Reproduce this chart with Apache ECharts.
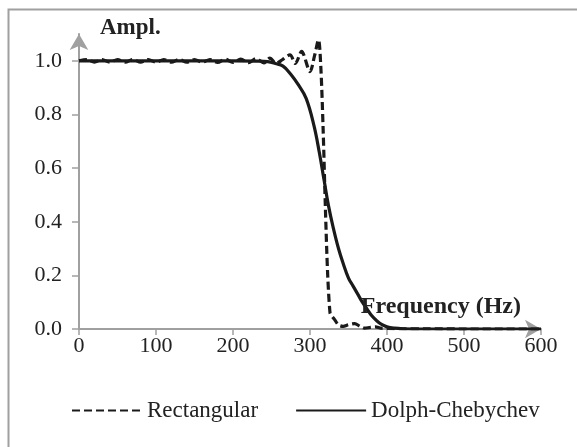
<!DOCTYPE html>
<html><head><meta charset="utf-8">
<script src="https://cdn.jsdelivr.net/npm/echarts@6/dist/echarts.min.js"></script>
<style>html,body{margin:0;padding:0;background:#fff}#c{width:577px;height:447px}</style>
</head><body><div id="c"></div>
<script>
// Frequency (Hz) and amplitude pairs
const rectFreq = [0,10,20,30,40,50,60,70,80,90,100,110,120,130,140,150,160,170,180,190,200,210,220,230,240,248,256,264,274,281,289,300,306,311,314,317,320,323,326,328,332,337,343,350,358,365,371,378,385,392,400,420,450,500,550,600];
const rectAmp  = [1.0,1.005,0.995,1.005,0.995,1.005,0.995,1.005,0.995,1.005,0.995,1.005,0.995,1.005,0.995,1.005,0.995,1.005,0.994,1.006,0.994,1.006,0.993,1.008,0.992,1.01,0.99,1.004,1.022,0.99,1.035,0.96,1.02,1.078,0.98,0.75,0.45,0.2,0.06,0.05,0.035,0.015,0.01,0.016,0.02,0.01,0.003,0.006,0.008,0.003,0.002,0.001,0.001,0.0,0.0,0.0];
const dcFreq = [0,100,200,230,245,255,265,275,285,295,305,312,318,324,330,337,343,350,356,362,368,374,380,387,393,400,410,420,450,500,550,600];
const dcAmp  = [1.0,1.0,1.0,0.999,0.997,0.99,0.98,0.95,0.91,0.86,0.76,0.66,0.56,0.46,0.38,0.30,0.245,0.19,0.16,0.13,0.10,0.075,0.05,0.03,0.017,0.008,0.003,0.001,0.0,0.0,0.0,0.0];
const xTicks = [0,100,200,300,400,500,600];
const yTicks = [0,0.2,0.4,0.6,0.8,1.0];
const seriesNames = ['Rectangular','Dolph-Chebychev'];
const xName = 'Frequency (Hz)';
const yName = 'Ampl.';

const pairs = (xs, ys) => xs.map((x,i)=>[x, ys[i]]);
const font = 'Liberation Serif';
const axisColor = '#a0a0a0';
const chart = echarts.init(document.getElementById('c'), null, {renderer:'canvas'});
chart.setOption({
  animation:false,
  graphic:[
    {type:'rect', shape:{x:8.5,y:9.5,width:700,height:600}, style:{fill:'none', stroke:'#a0a0a0', lineWidth:2}, z:-1},
    {type:'text', right:56, top:295, z:10,
     style:{text:xName, font:'bold 24px "Liberation Serif"', fill:'#222', backgroundColor:'rgba(255,255,255,0)'}}
  ],
  grid:{left:79, right:36, top:34, bottom:118, containLabel:false, outerBoundsMode:'none'},
  legend:{
    left:66, top:394, itemWidth:70, itemHeight:14, itemGap:37,
    itemStyle:{opacity:0},
    textStyle:{fontFamily:font, fontSize:23, color:'#222'},
    data:seriesNames
  },
  xAxis:{
    type:'value', min:xTicks[0], max:xTicks[xTicks.length-1], interval:100,
    axisLine:{show:true, lineStyle:{color:axisColor, width:2}, symbol:['none','arrow'], symbolSize:[14,16]},
    axisTick:{show:true, length:6, lineStyle:{color:axisColor, width:1.5}},
    axisLabel:{fontFamily:font, fontSize:22, color:'#222', margin:6},
    splitLine:{show:false}
  },
  yAxis:{
    type:'value', min:0, max:1.1, interval:0.2,
    name:yName, nameLocation:'end', nameGap:6,
    nameTextStyle:{fontFamily:font, fontSize:23, fontWeight:'bold', color:'#222', align:'left', verticalAlign:'middle', padding:[0,0,0,21]},
    axisLine:{show:true, lineStyle:{color:axisColor, width:2}, symbol:['none','arrow'], symbolSize:[14,16]},
    axisTick:{show:true, length:7, lineStyle:{color:axisColor, width:1.5}},
    axisLabel:{fontFamily:font, fontSize:22, color:'#222', margin:17, showMaxLabel:false,
      formatter:v=> yTicks.some(t=>Math.abs(t-v)<1e-6) ? v.toFixed(1) : ''},
    splitLine:{show:false}
  },
  series:[
    {name:seriesNames[0], type:'line', data:pairs(rectFreq, rectAmp), symbol:'none', smooth:0.3,
     lineStyle:{color:'#1a1a1a', width:3.2, type:[8,4]}, itemStyle:{color:'#1a1a1a'}, z:3},
    {name:seriesNames[1], type:'line', data:pairs(dcFreq, dcAmp), symbol:'none', smooth:0.4,
     lineStyle:{color:'#1a1a1a', width:3.2}, itemStyle:{color:'#1a1a1a'}, z:2}
  ]
});
</script></body></html>
